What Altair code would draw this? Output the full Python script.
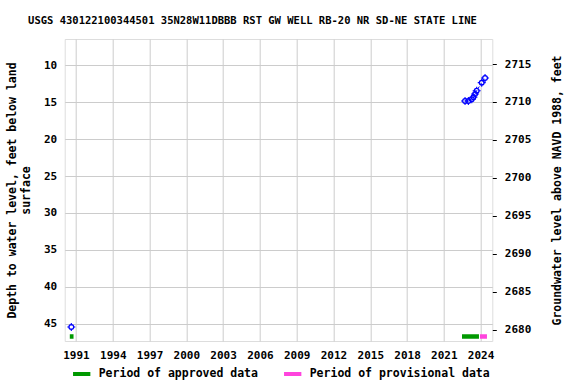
import altair as alt
import pandas as pd

FONT = "DejaVu Sans Mono"

# Measured water levels (depth below land surface, feet)
meas_dates = ["1990-08-15", "2022-09-24", "2023-01-01", "2023-04-13", "2023-05-30",
              "2023-07-20", "2023-09-06", "2024-02-03", "2024-05-12"]
meas_depth = [45.45, 14.83, 14.83, 14.6, 14.33, 13.88, 13.44, 12.35, 11.72]
meas_segment = [0, 1, 1, 1, 1, 1, 1, 1, 1]

# Data-approval periods
period_start = ["1990-07-01", "2022-06-25", "2023-12-13"]
period_end = ["1990-10-20", "2023-11-13", "2024-07-08"]
period_kind = ["Period of approved data", "Period of approved data", "Period of provisional data"]

tick_years = [1991, 1994, 1997, 2000, 2003, 2006, 2009, 2012, 2015, 2018, 2021, 2024]
depth_ticks = [10, 15, 20, 25, 30, 35, 40, 45]
elev_ticks = [2680, 2685, 2690, 2695, 2700, 2705, 2710, 2715]
DATUM = 2725.3

meas = pd.DataFrame({"date": meas_dates, "depth": meas_depth, "seg": meas_segment})
periods = pd.DataFrame({"start": period_start, "end": period_end, "kind": period_kind})

xscale = alt.Scale(domain=["1990-01-30", "2024-12-14"])
xaxis = alt.Axis(values=[alt.DateTime(year=y, month=1, date=1) for y in tick_years],
                 format="%Y", title=None, grid=True, ticks=False, labelPadding=8,
                 labelFont=FONT, labelFontSize=11, labelFontWeight="bold", labelColor="black",
                 gridColor="#cccccc", domain=False, labelFlush=False)

x = alt.X("date:T", scale=xscale, axis=xaxis)

depth_scale = alt.Scale(domain=[6.44, 47.34], reverse=True, zero=False, nice=False)
depth_axis = alt.Axis(values=depth_ticks, title=["Depth to water level, feet below land", "surface"],
                      grid=True, gridColor="#cccccc", ticks=False, labelPadding=8, domain=False,
                      labelFont=FONT, labelFontSize=11, labelFontWeight="bold", labelColor="black",
                      titleFont=FONT, titleFontSize=11.5, titleFontWeight="bold", titleColor="black",
                      titlePadding=12)

line = alt.Chart(meas).transform_filter("datum.seg == 1").mark_line(
    color="#0000ff", strokeDash=[2, 2], strokeWidth=1
).encode(x=x, y=alt.Y("depth:Q", scale=depth_scale, axis=depth_axis), detail="seg:N")

pts_circle = alt.Chart(meas).mark_point(
    shape="circle", filled=False, color="#0000ff", size=22, strokeWidth=1.3, opacity=1
).encode(x=x, y=alt.Y("depth:Q", scale=depth_scale, axis=depth_axis))

pts_cross = alt.Chart(meas).mark_point(
    shape="M-1,0L-0.45,0M0.45,0L1,0M0,-1L0,-0.45M0,0.45L0,1", filled=False, color="#0000ff",
    size=64, strokeWidth=1.1, opacity=1
).encode(x=x, y=alt.Y("depth:Q", scale=depth_scale, axis=depth_axis))

bars = alt.Chart(periods).mark_rule(strokeWidth=4.5, strokeCap="butt").encode(
    x=alt.X("start:T", scale=xscale, axis=xaxis),
    x2="end:T",
    y=alt.value(297.5),
    color=alt.Color("kind:N",
                    scale=alt.Scale(domain=["Period of approved data", "Period of provisional data"],
                                    range=["#009900", "#ff44dd"]),
                    legend=alt.Legend(title=None, orient="none", direction="horizontal",
                                      legendX=6, legendY=324, symbolType="stroke",
                                      symbolStrokeWidth=4, symbolSize=300, columnPadding=17,
                                      labelFont=FONT, labelFontSize=11.5, labelFontWeight="bold",
                                      labelColor="black", labelOffset=6, labelLimit=300)),
)

left = alt.layer(line, pts_circle, pts_cross, bars)

elev_scale = alt.Scale(domain=[2678.5, 2718.3], zero=False, nice=False)
right = alt.Chart(meas).transform_calculate(elev=f"{DATUM} - datum.depth").mark_point(
    opacity=0
).encode(
    x=x,
    y=alt.Y("elev:Q", scale=elev_scale,
            axis=alt.Axis(orient="right", values=elev_ticks, format="d", grid=False, tickSize=4,
                          tickColor="black", labelPadding=8, domain=False,
                          title="Groundwater level above NAVD 1988, feet", titleAngle=270,
                          titleX=65, titleY=151, titleAlign="center", titleBaseline="middle",
                          labelFont=FONT, labelFontSize=11, labelFontWeight="bold", labelColor="black",
                          titleFont=FONT, titleFontSize=11.5, titleFontWeight="bold",
                          titleColor="black")),
)

chart = alt.layer(left, right).resolve_scale(y="independent").properties(
    width=427.6, height=302,
    title=alt.TitleParams("USGS 430122100344501 35N28W11DBBB RST GW WELL RB-20 NR SD-NE STATE LINE",
                          font=FONT, fontSize=10.5, fontWeight="bold", color="black",
                          anchor="middle", dx=-26, offset=13),
    padding={"left": 64.7, "top": 39, "right": 83.7, "bottom": 43},
    autosize=alt.AutoSizeParams(type="none"),
).configure_view(stroke="black", strokeWidth=1.2).configure(background="white")

chart.save("out.html", embed_options={"renderer": "svg", "actions": False})
